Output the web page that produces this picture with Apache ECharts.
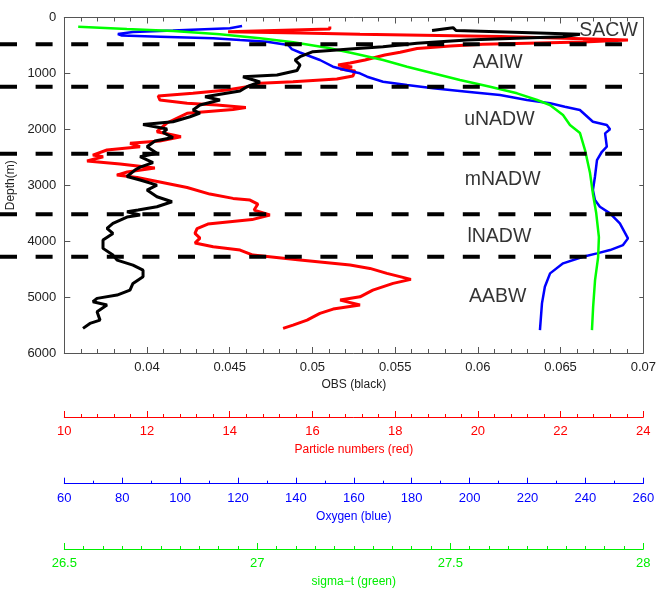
<!DOCTYPE html>
<html><head><meta charset="utf-8">
<script src="https://cdn.jsdelivr.net/npm/echarts@6/dist/echarts.min.js"></script>
<style>html,body{margin:0;padding:0;background:#fff}#c{width:669px;height:590px}</style>
</head><body><div id="c"></div>
<script>
// [OBS, depth m]
const obsData = [[0.05723,233],[0.05850,182],[0.05868,233],[0.06617,301],[0.06515,343],[0.06236,372],[0.05934,403],[0.05632,462],[0.05426,522],[0.05227,564],[0.05148,581],[0.05003,612],[0.04925,701],[0.04895,760],[0.04925,850],[0.04907,948],[0.04786,1029],[0.04580,1059],[0.04683,1154],[0.04604,1238],[0.04562,1315],[0.04351,1417],[0.04441,1476],[0.04320,1565],[0.04278,1655],[0.04320,1708],[0.04260,1775],[0.04157,1864],[0.03976,1914],[0.04121,1995],[0.04097,2057],[0.04157,2147],[0.04048,2209],[0.04000,2311],[0.04060,2429],[0.03958,2490],[0.04036,2594],[0.03958,2675],[0.03927,2728],[0.03879,2844],[0.03958,2907],[0.04060,2997],[0.04000,3086],[0.04060,3206],[0.04151,3295],[0.04060,3385],[0.03946,3444],[0.03879,3474],[0.03958,3533],[0.03879,3569],[0.03794,3682],[0.03758,3771],[0.03794,3861],[0.03734,3981],[0.03734,4129],[0.03794,4249],[0.03819,4338],[0.03915,4428],[0.03976,4518],[0.03976,4637],[0.03915,4755],[0.03897,4875],[0.03819,4964],[0.03698,5023],[0.03673,5084],[0.03758,5143],[0.03698,5263],[0.03716,5412],[0.03655,5471],[0.03613,5560]];
// [particle numbers, depth m]
const particleData = [[16.42,161],[16.42,206],[13.96,254],[15.70,277],[17.15,301],[20.54,340],[23.63,403],[22.54,438],[20.12,479],[19.33,510],[18.53,555],[18.12,623],[17.75,671],[17.27,760],[16.91,814],[16.62,850],[16.96,886],[16.67,921],[17.03,957],[16.98,1047],[16.59,1100],[15.53,1149],[14.73,1177],[14.42,1238],[13.93,1297],[13.11,1356],[12.27,1404],[12.31,1476],[12.97,1535],[13.69,1565],[14.39,1610],[14.08,1646],[12.97,1714],[12.48,1887],[12.24,2043],[12.63,2102],[12.82,2132],[12.31,2209],[11.59,2251],[11.83,2311],[11.03,2370],[10.69,2460],[10.94,2490],[10.55,2567],[11.35,2621],[12.19,2692],[11.52,2764],[11.27,2818],[11.76,2862],[12.31,2943],[12.97,3041],[13.52,3158],[14.08,3235],[14.49,3265],[14.68,3336],[14.59,3444],[14.97,3533],[14.54,3614],[13.47,3694],[13.21,3775],[13.16,3861],[13.28,3945],[13.16,4034],[13.60,4100],[14.25,4159],[14.56,4249],[15.70,4338],[16.91,4428],[17.39,4487],[17.80,4576],[18.38,4683],[17.95,4755],[17.46,4875],[17.15,4995],[16.67,5054],[17.15,5143],[16.50,5215],[16.18,5292],[15.87,5412],[15.53,5501],[15.29,5560]];
// [oxygen, depth m]
const oxygenData = [[121.4,152],[117.2,193],[97.5,233],[83.7,259],[78.5,295],[79.9,322],[93.1,343],[111.4,372],[120.7,403],[130.0,433],[137.3,492],[138.6,564],[141.4,626],[148.3,760],[152.8,880],[157.0,939],[162.1,998],[164.6,1059],[170.1,1149],[178.4,1208],[187.4,1267],[199.1,1327],[210.5,1386],[219.8,1476],[227.8,1535],[232.9,1596],[238.1,1655],[242.6,1864],[247.4,1923],[248.5,2000],[246.8,2072],[247.4,2311],[245.7,2401],[244.0,2549],[243.3,2848],[242.6,3086],[243.3,3265],[245.0,3385],[248.5,3503],[251.9,3682],[254.7,3950],[253.0,4070],[248.5,4159],[244.0,4218],[239.2,4279],[232.3,4397],[227.8,4576],[226.0,4816],[225.0,5113],[224.3,5591]];
// [sigma-t, depth m]
const sigmaData = [[26.536,165],[26.662,206],[26.782,242],[26.903,301],[27.007,372],[27.093,444],[27.181,540],[27.245,635],[27.326,760],[27.388,880],[27.455,998],[27.525,1118],[27.603,1238],[27.673,1356],[27.725,1476],[27.758,1565],[27.792,1744],[27.810,1923],[27.836,2066],[27.849,2370],[27.862,2782],[27.870,3175],[27.878,3497],[27.885,3927],[27.883,4285],[27.875,4696],[27.870,5179],[27.867,5590]];
const boundaryDepths = [480, 1240, 2435, 3520, 4280];
const waterMasses = ['SACW', 'AAIW', 'uNADW', 'mNADW', 'lNADW', 'AABW'];
const massObs = [0.0679, 0.0612, 0.0613, 0.0615, 0.0613, 0.0612];
const massDepth = [241, 814, 1834, 2907, 3921, 4995];

const FONT = "'Liberation Sans', Arial, sans-serif";
const FRAME = '#555';

function colorAxis(color, min, max, interval, split, offset, name, gap) {
  return {
    type: 'value', gridIndex: 0, position: 'bottom', offset: offset,
    min: min, max: max, interval: interval,
    name: name, nameLocation: 'middle', nameGap: gap,
    nameTextStyle: {color: color, fontFamily: FONT, fontSize: 12},
    axisLine: {show: true, onZero: false, lineStyle: {color: color, width: 1}},
    axisTick: {show: true, inside: true, length: 6, lineStyle: {color: color}},
    minorTick: {show: true, splitNumber: split, length: 3, lineStyle: {color: color}},
    axisLabel: {color: color, fontFamily: FONT, fontSize: 13, margin: 8},
    splitLine: {show: false}, minorSplitLine: {show: false}
  };
}

const chart = echarts.init(document.getElementById('c'), null, {renderer: 'canvas'});
const option = {
  animation: false,
  backgroundColor: '#fff',
  grid: [
    {left: 64.3, right: 25.7, top: 17.5, bottom: 237, containLabel: false, outerBoundsMode: 'none'},
    {left: 0, width: 622, top: 17.5, bottom: 237, containLabel: false, outerBoundsMode: 'none'}
  ],
  xAxis: [
    {
      type: 'value', gridIndex: 0, position: 'bottom', min: 0.035, max: 0.07, interval: 0.005,
      name: 'OBS (black)', nameLocation: 'middle', nameGap: 22,
      nameTextStyle: {color: '#222', fontFamily: FONT, fontSize: 12},
      axisLine: {show: true, onZero: false, lineStyle: {color: FRAME, width: 1}},
      axisTick: {show: true, inside: true, length: 6, lineStyle: {color: FRAME}},
      minorTick: {show: true, splitNumber: 5, length: 4, lineStyle: {color: FRAME}},
      axisLabel: {color: '#222', fontFamily: FONT, fontSize: 13, margin: 8,
        formatter: v => Math.abs(v - 0.035) < 1e-9 ? '' : String(parseFloat(v.toFixed(3)))},
      splitLine: {show: false}
    },
    colorAxis('#ff0000', 10, 24, 2, 5, 64, 'Particle numbers (red)', 27),
    colorAxis('#0000ff', 60, 260, 20, 2, 130.7, 'Oxygen (blue)', 27),
    colorAxis('#00ee00', 26.5, 28, 0.5, 10, 196, 'sigma\u2212t (green)', 26.5),
    {
      type: 'value', gridIndex: 0, position: 'top', min: 0.035, max: 0.07, interval: 0.005,
      axisLine: {show: true, onZero: false, lineStyle: {color: FRAME, width: 1}},
      axisTick: {show: true, inside: true, length: 6, lineStyle: {color: FRAME}},
      minorTick: {show: true, splitNumber: 5, length: 4, lineStyle: {color: FRAME}},
      axisLabel: {show: false}, splitLine: {show: false}
    },
    {type: 'value', gridIndex: 1, min: 0, max: 1, show: false}
  ],
  yAxis: [
    {
      type: 'value', gridIndex: 0, position: 'left', inverse: true, min: 0, max: 6000, interval: 1000,
      name: 'Depth(m)', nameLocation: 'middle', nameGap: 39,
      nameTextStyle: {color: '#222', fontFamily: FONT, fontSize: 12},
      axisLine: {show: true, onZero: false, lineStyle: {color: FRAME, width: 1}},
      axisTick: {show: true, inside: true, length: 6, lineStyle: {color: FRAME}},
      axisLabel: {color: '#222', fontFamily: FONT, fontSize: 13, margin: 8, formatter: v => String(v)},
      splitLine: {show: false}
    },
    {
      type: 'value', gridIndex: 0, position: 'right', inverse: true, min: 0, max: 6000, interval: 1000,
      axisLine: {show: true, onZero: false, lineStyle: {color: FRAME, width: 1}},
      axisTick: {show: true, inside: true, length: 4, lineStyle: {color: FRAME}},
      axisLabel: {show: false}, splitLine: {show: false}
    },
    {type: 'value', gridIndex: 1, inverse: true, min: 0, max: 6000, show: false}
  ],
  series: [
    {type: 'line', name: 'OBS', xAxisIndex: 0, yAxisIndex: 0, data: obsData, showSymbol: false, symbol: 'none',
     lineStyle: {color: '#000', width: 3}, z: 3},
    {type: 'line', name: 'Particles', xAxisIndex: 1, yAxisIndex: 0, data: particleData, symbol: 'none',
     lineStyle: {color: '#ff0000', width: 3}, z: 2},
    {type: 'line', name: 'Oxygen', xAxisIndex: 2, yAxisIndex: 0, data: oxygenData, symbol: 'none',
     lineStyle: {color: '#0000ff', width: 2.5}, z: 2},
    {type: 'line', name: 'Sigma', xAxisIndex: 3, yAxisIndex: 0, data: sigmaData, symbol: 'none',
     lineStyle: {color: '#00ff00', width: 2.5}, z: 2},
    ...boundaryDepths.map(d => ({
      type: 'line', xAxisIndex: 5, yAxisIndex: 2, data: [[0, d], [1, d]], symbol: 'none', z: 5,
      lineStyle: {color: '#000', width: 4, type: [17, 18.6], cap: 'butt'}
    })),
    {
      type: 'scatter', xAxisIndex: 0, yAxisIndex: 0, symbolSize: 1, z: 6,
      itemStyle: {color: 'rgba(0,0,0,0)'},
      data: waterMasses.map((n, i) => [massObs[i], massDepth[i], n]),
      label: {show: true, position: 'inside', formatter: p => p.data[2], color: '#000',
              fontFamily: FONT, fontSize: 19.5}
    }
  ]
};
chart.setOption(option);
</script></body></html>
